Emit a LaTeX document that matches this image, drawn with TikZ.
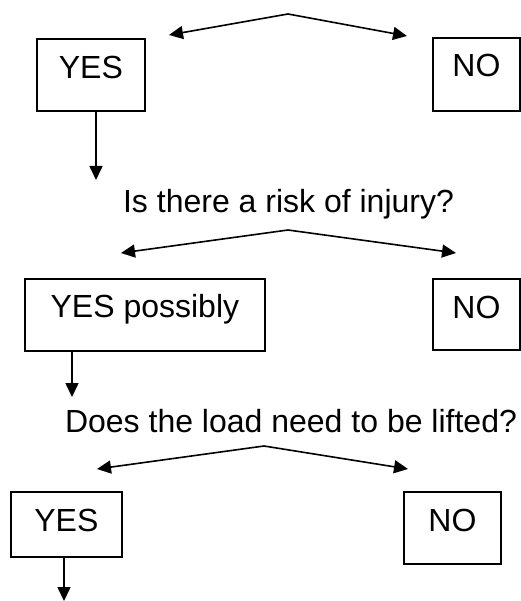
\documentclass[tikz,border=0pt]{standalone}
\usepackage{fontspec}
\setmainfont{Liberation Sans}
\usetikzlibrary{arrows.meta}
\begin{document}
\begin{tikzpicture}[x=1pt,y=-1pt,
  box/.style={draw=black, line width=1.8pt, inner sep=0pt, anchor=north west,
    font=\fontsize{32}{36}\selectfont, text height=23pt},
  qtext/.style={font=\fontsize{32}{36}\selectfont, inner sep=0pt, anchor=base},
  arr/.style={line width=1.6pt, -{Triangle[length=14pt,width=13pt]}}]
\useasboundingbox (0,0) rectangle (520,601);
% first level
\node[box, minimum width=108pt, minimum height=72pt, text depth=15pt] (yes1) at (36,38) {YES};
\node[box, minimum width=87pt, minimum height=73pt, text depth=18pt] (no1) at (432,37) {NO};
\coordinate (ap1) at (288,14);
\coordinate (l1) at (169,35);
\coordinate (r1) at (407,36);
\draw[arr] (ap1) -- (l1);
\draw[arr] (ap1) -- (r1);
\coordinate (d1) at (96,180);
\draw[arr] (yes1.south -| d1) -- (d1);
% second level
\node[qtext] (q2) at (288.5,213) {Is there a risk of injury?};
\coordinate (ap2) at (288,230);
\coordinate (l2) at (121,253);
\coordinate (r2) at (456,253);
\draw[arr] (ap2) -- (l2);
\draw[arr] (ap2) -- (r2);
\node[box, minimum width=240pt, minimum height=72pt, text depth=17pt] (yes2) at (24,278) {YES possibly};
\node[box, minimum width=87pt, minimum height=71pt, text depth=14pt] (no2) at (432,278) {NO};
\coordinate (d2) at (72,397);
\draw[arr] (yes2.south -| d2) -- (d2);
% third level
\node[qtext] (q3) at (291,432) {Does the load need to be lifted?};
\coordinate (ap3) at (264,446);
\coordinate (l3) at (97,469);
\coordinate (r3) at (408,469);
\draw[arr] (ap3) -- (l3);
\draw[arr] (ap3) -- (r3);
\node[box, minimum width=111pt, minimum height=65pt, text depth=8pt] (yes3) at (10,491) {YES};
\node[box, minimum width=97pt, minimum height=72pt, text depth=15pt] (no3) at (403,491) {NO};
\coordinate (d3) at (64,601);
\draw[arr] (yes3.south -| d3) -- (d3);
\end{tikzpicture}
\end{document}
